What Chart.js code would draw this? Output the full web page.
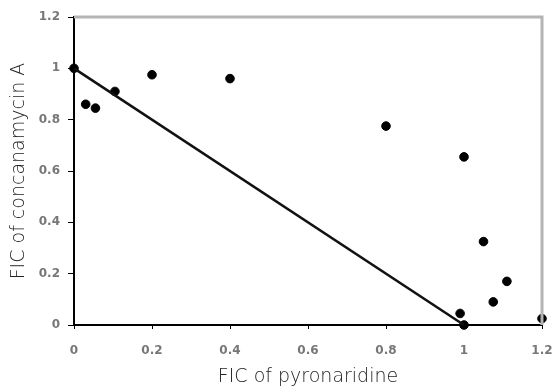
<!DOCTYPE html>
<html>
<head>
<meta charset="utf-8">
<script src="https://cdn.jsdelivr.net/npm/chart.js@4/dist/chart.umd.min.js"></script>
<style>
  html, body { margin: 0; padding: 0; background: #fff; }
  #wrap { width: 556px; height: 392px; }
</style>
</head>
<body>
<div id="wrap"><canvas id="fic"></canvas></div>
<script>
// --- data ---
const ficPyronaridine = [0, 0.03, 0.055, 0.105, 0.2, 0.4, 0.8, 1.0, 1.05, 1.11, 1.075, 0.99, 1.0, 1.2];
const ficConcanamycin = [1, 0.86, 0.845, 0.91, 0.975, 0.96, 0.775, 0.655, 0.325, 0.17, 0.09, 0.045, 0.0, 0.025];
// additivity line
const lineX = [0, 1];
const lineY = [1, 0];
// ticks
const xTicks = [0, 0.2, 0.4, 0.6, 0.8, 1, 1.2];
const yTicks = [0, 0.2, 0.4, 0.6, 0.8, 1, 1.2];
const xTickLabels = ['0', '0.2', '0.4', '0.6', '0.8', '1', '1.2'];
const yTickLabels = ['0', '0.2', '0.4', '0.6', '0.8', '1', '1.2'];

const points = ficPyronaridine.map((x, i) => ({ x: x, y: ficConcanamycin[i] }));
const linePts = lineX.map((x, i) => ({ x: x, y: lineY[i] }));

const tickFont = { family: 'DejaVu Sans', size: 12, weight: 'bold' };
const titleFont = { family: 'DejaVu Sans', size: 19, weight: '200' };

// gray frame on top and right like the original plot
const frame = {
    id: 'frame',
    afterDraw(chart) {
        const { ctx, chartArea: a } = chart;
        ctx.save();
        ctx.strokeStyle = '#b4b4b4';
        ctx.lineWidth = 3;
        ctx.beginPath();
        ctx.moveTo(a.left, a.top);
        ctx.lineTo(a.right, a.top);
        ctx.lineTo(a.right, a.bottom);
        ctx.stroke();
        ctx.restore();
    }
};

new Chart(document.getElementById('fic'), {
    type: 'scatter',
    data: {
        datasets: [
            {
                label: 'line',
                data: linePts,
                showLine: true,
                borderColor: '#111',
                borderWidth: 2.5,
                pointRadius: 0,
                clip: false
            },
            {
                label: 'FIC',
                data: points,
                backgroundColor: '#000',
                borderColor: '#000',
                pointRadius: 4.3,
                pointHoverRadius: 4.3,
                clip: false
            }
        ]
    },
    options: {
        responsive: true,
        maintainAspectRatio: false,
        animation: false,
        layout: { padding: { left: 0, right: 14, top: 17, bottom: 0 } },
        plugins: { legend: { display: false }, tooltip: { enabled: false } },
        scales: {
            x: {
                type: 'linear',
                min: 0, max: 1.2,
                afterBuildTicks: s => { s.ticks = xTicks.map(v => ({ value: v })); },
                afterFit: s => { s.height = 67; s.paddingLeft = 0; s.paddingRight = 0; },
                ticks: {
                    callback: (v, i) => xTickLabels[i],
                    font: tickFont, color: '#777', padding: 15, maxRotation: 0
                },
                grid: { drawOnChartArea: false, tickLength: 4, color: '#000', tickWidth: 1 },
                border: { color: '#000', width: 2 },
                title: { display: true, text: 'FIC of pyronaridine', font: titleFont, color: '#222', padding: { top: 0, bottom: 4 } }
            },
            y: {
                type: 'linear',
                min: 0, max: 1.2,
                afterBuildTicks: s => { s.ticks = yTicks.map(v => ({ value: v })); },
                afterFit: s => { s.width = 74; s.paddingTop = 0; s.paddingBottom = 0; },
                ticks: {
                    callback: (v, i) => yTickLabels[i],
                    font: tickFont, color: '#777', padding: 8
                },
                grid: { drawOnChartArea: false, tickLength: 6, color: '#000', tickWidth: 1 },
                border: { color: '#000', width: 2 },
                title: { display: true, text: 'FIC of concanamycin A', font: titleFont, color: '#222', padding: { top: 8, bottom: 0 } }
            }
        }
    },
    plugins: [frame]
});
</script>
</body>
</html>
